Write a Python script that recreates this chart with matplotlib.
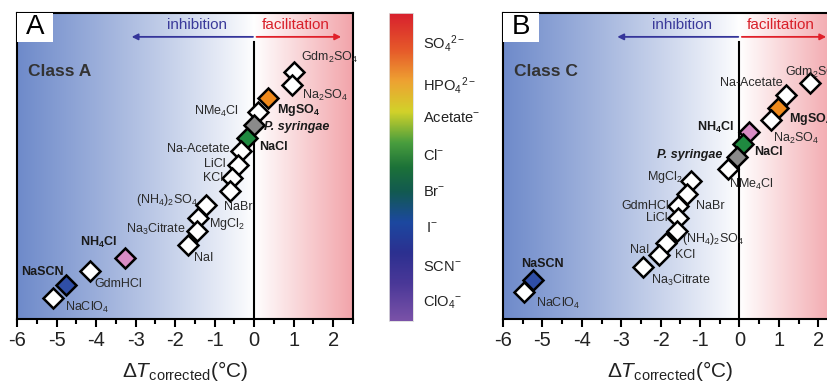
import numpy as np
import matplotlib
matplotlib.use("Agg")
import matplotlib.pyplot as plt
from matplotlib.colors import LinearSegmentedColormap
from matplotlib.patches import Rectangle

plt.rcParams['font.family'] = ['Liberation Sans', 'DejaVu Sans']
plt.rcParams['mathtext.fontset'] = 'custom'
plt.rcParams['mathtext.rm'] = 'Liberation Sans'
plt.rcParams['mathtext.it'] = 'Liberation Sans:italic'
plt.rcParams['mathtext.bf'] = 'Liberation Sans:bold'

# ---------------- data ----------------
# Panel A (Class A), ordered top -> bottom
A_names = ['Gdm$_2$SO$_4$', 'Na$_2$SO$_4$', r'MgSO$_\mathbf{4}$', 'NMe$_4$Cl', 'P. syringae', 'NaCl',
           'Na-Acetate', 'LiCl', 'KCl', 'NaBr', '(NH$_4$)$_2$SO$_4$', 'MgCl$_2$',
           'Na$_3$Citrate', 'NaI', r'NH$_\mathbf{4}$Cl', 'GdmHCl', 'NaSCN', 'NaClO$_4$']
A_dT = [1.02, 0.96, 0.36, 0.10, 0.00, -0.18, -0.33, -0.41, -0.56, -0.61, -1.22, -1.42,
        -1.45, -1.68, -3.27, -4.16, -4.75, -5.08]
A_kind = ['salt', 'salt', 'MgSO4', 'salt', 'Psyr', 'NaCl', 'salt', 'salt', 'salt', 'salt',
          'salt', 'salt', 'salt', 'salt', 'NH4Cl', 'salt', 'NaSCN', 'salt']

# Panel B (Class C), ordered top -> bottom
B_names = ['Gdm$_2$SO$_4$', 'Na-Acetate', r'MgSO$_\mathbf{4}$', 'Na$_2$SO$_4$', r'NH$_\mathbf{4}$Cl', 'NaCl',
           'P. syringae', 'NMe$_4$Cl', 'MgCl$_2$', 'NaBr', 'GdmHCl', 'LiCl', '(NH$_4$)$_2$SO$_4$',
           'NaI', 'KCl', 'Na$_3$Citrate', 'NaSCN', 'NaClO$_4$']
B_dT = [1.78, 1.19, 0.99, 0.79, 0.25, 0.08, -0.05, -0.28, -1.24, -1.32, -1.55, -1.57, -1.58,
        -1.86, -2.05, -2.45, -5.25, -5.47]
B_kind = ['salt', 'salt', 'MgSO4', 'salt', 'NH4Cl', 'NaCl', 'Psyr', 'salt', 'salt', 'salt',
          'salt', 'salt', 'salt', 'salt', 'salt', 'salt', 'NaSCN', 'salt']

anions = [r'SO$_4$$^{2-}$', r'HPO$_4$$^{2-}$', r'Acetate$^{-}$', r'Cl$^{-}$', r'Br$^{-}$',
          r'I$^{-}$', r'SCN$^{-}$', r'ClO$_4$$^{-}$']

xticks = [-6, -5, -4, -3, -2, -1, 0, 1, 2]

# ---------------- styles ----------------
face = {'salt': 'white', 'MgSO4': '#f08a1c', 'Psyr': '#8a8a8a', 'NaCl': '#1f8a40',
        'NH4Cl': '#d98cc4', 'NaSCN': '#2f4ea6'}
bold = {'MgSO4', 'Psyr', 'NaCl', 'NH4Cl', 'NaSCN'}

# label offsets in pixels (dx, dy downward), ha
A_lab = [(7, -14, 'left'), (10, 11, 'left'), (9, 12, 'left'), (-19, 0, 'right'),
         (10, 2, 'left'), (12, 9, 'left'), (-12, -2, 'right'), (-12, -1, 'right'),
         (-9, 0, 'right'), (-6, 16, 'left'), (-8, -5, 'right'), (11, 6, 'left'),
         (-11, -2, 'right'), (6, 13, 'left'), (-8, -16, 'right'), (5, 13, 'left'),
         (-3, -13, 'right'), (12, 9, 'left')]
B_lab = [(-25, -11, 'left'), (-4, -12, 'right'), (11, 11, 'left'), (2, 19, 'left'),
         (-15, -5, 'right'), (12, 8, 'left'), (-15, -2, 'right'), (1, 15, 'left'),
         (-8, -4, 'right'), (9, 12, 'left'), (-9, 0, 'right'), (-10, 0, 'right'),
         (5, 8, 'left'), (-17, 7, 'right'), (16, 0, 'left'), (8, 13, 'left'),
         (10, -16, 'center'), (12, 11, 'left')]

W, H = 827, 385
fig = plt.figure(figsize=(W / 100, H / 100), dpi=100)

blue = np.array([110, 138, 202]) / 255
pink = np.array([242, 164, 170]) / 255
white = np.array([1.0, 1.0, 1.0])
xs = np.linspace(-6, 2.5, 600)
grad = np.zeros((1, len(xs), 3))
for i, xv in enumerate(xs):
    if xv < 0:
        t = (-xv / 6.0) ** 0.9
        grad[0, i] = white * (1 - t) + blue * t
    else:
        t = xv / 2.5
        grad[0, i] = white * (1 - t) + pink * t


def panel(rect, names, dT, kinds, labs, ylim, letter, cls):
    ax = fig.add_axes(rect)
    n = len(names)
    y = np.arange(n, 0, -1)
    ax.imshow(grad, extent=[-6, 2.5, ylim[0], ylim[1]], aspect='auto', zorder=0,
              interpolation='bilinear')
    ax.set_xlim(-6, 2.5)
    ax.set_ylim(*ylim)
    ax.axvline(0, ymin=0, ymax=0.905, color='black', lw=1.5, zorder=1)
    for i in range(n):
        ax.plot(dT[i], y[i], marker='D', ms=10.6, mfc=face[kinds[i]], mec='black',
                mew=1.8, ls='none', zorder=3 + i * 0.01)
        dx, dy, ha = labs[i]
        kw = dict(fontsize=9, color='#2a2a2a')
        if kinds[i] in bold:
            kw['fontweight'] = 'bold'
            kw['color'] = '#1a1a1a'
        if kinds[i] == 'Psyr':
            kw['fontstyle'] = 'italic'
        ax.annotate(names[i], xy=(dT[i], y[i]), xytext=(dx, -dy), textcoords='offset pixels',
                    ha=ha, va='center', zorder=5, **kw)
    # arrows
    ya = 0.922
    ax.annotate('', xy=(-3.1, ya), xytext=(-0.03, ya), xycoords=('data', 'axes fraction'),
                arrowprops=dict(arrowstyle='-|>', color='#35359a', lw=1.3, mutation_scale=9,
                                shrinkA=0, shrinkB=0))
    ax.annotate('', xy=(2.2, ya), xytext=(0.06, ya), xycoords=('data', 'axes fraction'),
                arrowprops=dict(arrowstyle='-|>', color='#e0202a', lw=1.3, mutation_scale=9,
                                shrinkA=0, shrinkB=0))
    ax.text(-1.45, 0.962, 'inhibition', transform=ax.get_xaxis_transform(), ha='center',
            va='center', fontsize=11, color='#3a3a9a')
    ax.text(1.05, 0.962, 'facilitation', transform=ax.get_xaxis_transform(), ha='center',
            va='center', fontsize=11, color='#d8202a')
    ax.text(0.033, 0.81, cls, transform=ax.transAxes, ha='left', va='center', fontsize=12.5,
            fontweight='bold', color='#333333')
    ax.add_patch(Rectangle((0, 1 - 29 / 306), 36 / 336, 29 / 306, transform=ax.transAxes,
                           facecolor='white', edgecolor='none', zorder=4))
    ax.text(18 / 336, 1 - 14.5 / 306, letter, transform=ax.transAxes, ha='center',
            va='center', fontsize=20, color='black', zorder=5)
    ax.set_yticks([])
    ax.set_xticks(xticks)
    ax.set_xticklabels([str(t) for t in xticks])
    ax.set_xticks(np.arange(-5.5, 2.6, 1.0), minor=True)
    ax.tick_params(axis='x', which='major', length=6, width=1.5, labelsize=14.5,
                   labelcolor='#222222', pad=3)
    ax.tick_params(axis='x', which='minor', length=3.5, width=1.5)
    for s in ax.spines.values():
        s.set_linewidth(1.5)
    ax.set_xlabel(r'Δ$T_{\mathrm{corrected}}$(°C)', fontsize=15, color='#222222', labelpad=6)
    return ax


panel([17 / W, 1 - 319 / H, 336 / W, 306 / H], A_names, A_dT, A_kind, A_lab,
      (-0.58, 22.4), 'A', 'Class A')
panel([503 / W, 1 - 319 / H, 335 / W, 306 / H], B_names, B_dT, B_kind, B_lab,
      (-1.2, 23.7), 'B', 'Class C')

# colour bar
stops = [(0.0, '#7a52a8'), (0.12, '#4a3898'), (0.22, '#2c3090'), (0.32, '#1c48a0'),
         (0.42, '#125a50'), (0.50, '#1c7238'), (0.58, '#4a9e3e'), (0.68, '#d2d22a'),
         (0.78, '#eea232'), (0.88, '#e65a2a'), (1.0, '#d8202e')]
cmap = LinearSegmentedColormap.from_list('anion', stops)
cax = fig.add_axes([389 / W, 1 - 321 / H, 24 / W, 308 / H])
cax.imshow(np.linspace(1, 0, 256)[:, None], aspect='auto', cmap=cmap, extent=[0, 1, 0, 1])
cax.set_xticks([])
cax.set_yticks([])
for s in cax.spines.values():
    s.set_color('#dddddd')
    s.set_linewidth(0.6)

lab_y = [43, 85, 118, 155, 192, 228, 267, 302]
for txt, yy in zip(anions, lab_y):
    xx = 426 if txt.startswith('I') else 423
    fig.text(xx / W, 1 - yy / H, txt, ha='left', va='center', fontsize=10.5, color='#222222')

fig.savefig('out.png', dpi=100)
